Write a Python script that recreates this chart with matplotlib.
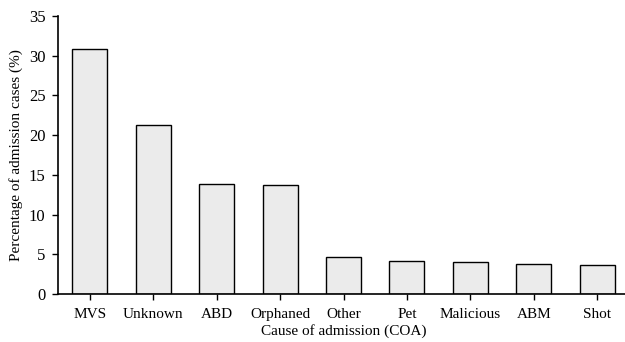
import matplotlib
matplotlib.use("Agg")
import matplotlib.pyplot as plt

categories = ["MVS", "Unknown", "ABD", "Orphaned", "Other", "Pet", "Malicious", "ABM", "Shot"]
percentages = [30.8, 21.3, 13.8, 13.7, 4.6, 4.1, 4.0, 3.8, 3.7]
yticks = [0, 5, 10, 15, 20, 25, 30, 35]

plt.rcParams["font.family"] = ["Liberation Serif", "DejaVu Serif"]
plt.rcParams["font.size"] = 11

fig = plt.figure(figsize=(6.25, 3.42), dpi=100)
ax = fig.add_axes([58 / 625, 48 / 342, 571 / 625, 278 / 342])

x = range(len(categories))
ax.bar(x, percentages, width=0.55, color="#ebebeb", edgecolor="black", linewidth=1.0)

ax.set_xlim(-0.5, len(categories) - 0.5)
ax.set_ylim(0, 35)
ax.set_yticks(yticks)
ax.set_xticks(list(x))
ax.set_xticklabels(categories)

for side in ("top", "right"):
    ax.spines[side].set_visible(False)
for side in ("left", "bottom"):
    ax.spines[side].set_linewidth(1.2)
ax.tick_params(direction="out", length=4, width=1.0, labelsize=11)
ax.tick_params(axis="x", pad=6)
ax.tick_params(axis="y", labelsize=12, pad=5)

ax.set_xlabel("Cause of admission (COA)", fontsize=11, labelpad=2)
ax.set_ylabel("Percentage of admission cases (%)", fontsize=11, labelpad=4)

fig.savefig("out.png", dpi=100)
